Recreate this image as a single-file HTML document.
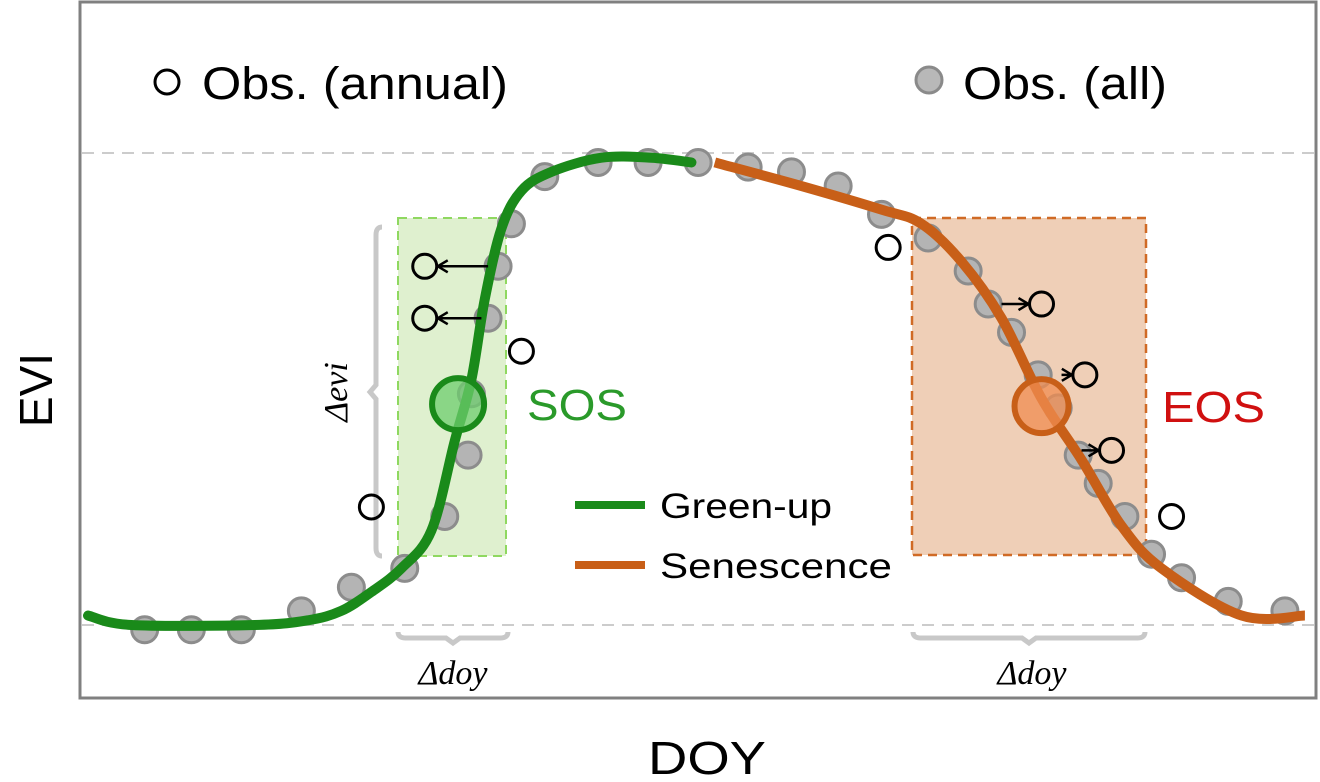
<!DOCTYPE html>
<html><head><meta charset="utf-8"><style>
html,body{margin:0;padding:0;background:#fff;}
svg{display:block;font-family:"Liberation Sans",sans-serif;}
</style></head><body>
<svg id="chart" width="1320" height="782" viewBox="0 0 1320 782">
<rect x="80" y="2" width="1236" height="696" fill="#fff" stroke="#808080" stroke-width="3"/>
<line x1="82" y1="153" x2="1314" y2="153" stroke="#ccc" stroke-width="2" stroke-dasharray="12,8"/>
<line x1="82" y1="625" x2="1314" y2="625" stroke="#ccc" stroke-width="2" stroke-dasharray="12,8"/>
<rect x="398" y="218" width="108" height="338" fill="#dff0cf" stroke="#8fd860" stroke-width="2" stroke-dasharray="9,6"/>
<rect x="912" y="218" width="234" height="337" fill="#efcfb7" stroke="#d06a25" stroke-width="2.5" stroke-dasharray="9,6"/>
<path d="M382 227 Q376 227 376 235 L376 385 L370 392 L376 399 L376 548 Q376 556 382 556" fill="none" stroke="#c8c8c8" stroke-width="5"/>
<text transform="translate(347,392) rotate(-90)" text-anchor="middle" font-family="Liberation Serif,serif" font-style="italic" font-size="34">Δevi</text>
<path d="M398 632 Q398 638 406 638 L446 638 L453 643 L460 638 L500 638 Q508 638 508 632" fill="none" stroke="#c8c8c8" stroke-width="5"/>
<text x="453" y="684" text-anchor="middle" font-family="Liberation Serif,serif" font-style="italic" font-size="34">Δdoy</text>
<path d="M913 632 Q913 638 921 638 L1022 638 L1029 643 L1036 638 L1137 638 Q1145 638 1145 632" fill="none" stroke="#c8c8c8" stroke-width="5"/>
<text x="1032" y="684" text-anchor="middle" font-family="Liberation Serif,serif" font-style="italic" font-size="34">Δdoy</text>
<g id="allpts"></g><g id="curves"></g><g id="annual"></g>
<text x="40" y="390" transform="rotate(-90,40,390)" text-anchor="middle" dominant-baseline="middle" font-size="46">EVI</text>
<text x="707" y="774" text-anchor="middle" font-size="46" textLength="118" lengthAdjust="spacingAndGlyphs">DOY</text>
<circle cx="167" cy="82" r="12" fill="#fff" stroke="#000" stroke-width="3"/>
<text x="202" y="99" font-size="45" textLength="306" lengthAdjust="spacingAndGlyphs">Obs. (annual)</text>
<circle cx="929" cy="80" r="13" fill="#b8b8b8" stroke="#8a8a8a" stroke-width="3"/>
<text x="963" y="99" font-size="45" textLength="204" lengthAdjust="spacingAndGlyphs">Obs. (all)</text>
<line x1="575" y1="505" x2="645" y2="505" stroke="#1a8a1a" stroke-width="8"/>
<text x="660" y="518" font-size="35" textLength="172" lengthAdjust="spacingAndGlyphs">Green-up</text>
<line x1="575" y1="565" x2="645" y2="565" stroke="#c85f18" stroke-width="8"/>
<text x="660" y="578" font-size="35" textLength="232" lengthAdjust="spacingAndGlyphs">Senescence</text>
<text x="527" y="420" font-size="44" fill="#2a9a2a" textLength="100" lengthAdjust="spacingAndGlyphs">SOS</text>
<text x="1162" y="422" font-size="44" fill="#d01010" textLength="103" lengthAdjust="spacingAndGlyphs">EOS</text>
</svg>
<script>
const allDoy=[17,31,46,64,79,95,107,114,115,120,123,127,137,153,168,183,198,211,225,238,252,264,270,277,285,291,297,303,311,319,328,342,359];
const allEvi=[-0.01,-0.01,-0.01,0.03,0.08,0.12,0.23,0.36,0.49,0.65,0.76,0.85,0.95,0.98,0.98,0.98,0.97,0.96,0.93,0.87,0.82,0.75,0.68,0.62,0.53,0.46,0.36,0.30,0.23,0.15,0.10,0.05,0.03];
const greenDoy=[0,13,50,66,76,85,94,103,110,115,119,124,130,139,154,169,181];
const greenEvi=[0.02,0,0,0.01,0.03,0.07,0.12,0.20,0.39,0.52,0.69,0.84,0.92,0.96,0.99,0.99,0.98];
const senDoy=[188,214,238,250,262,274,286,298,310,322,346,365];
const senEvi=[0.98,0.93,0.88,0.85,0.77,0.65,0.48,0.35,0.21,0.12,0.02,0.02];
const annDoy=[85,101,101,130,240,286,299,307,325];
const annEvi=[0.25,0.76,0.65,0.58,0.80,0.68,0.53,0.37,0.23];
const arrowFromDoy=[null,120,118,null,null,274,292,298,null];
const sosDoy=111, sosEvi=0.47, eosDoy=286, eosEvi=0.47;
const NS='http://www.w3.org/2000/svg';
const xs=d=>88+d*3.334, ys=v=>625-v*472;
function mk(t,a,p){const e=document.createElementNS(NS,t);for(const k in a)e.setAttribute(k,a[k]);p.appendChild(e);return e;}
const gAll=document.getElementById('allpts');
allDoy.forEach((d,i)=>{const c=mk('circle',{cx:xs(d),cy:ys(allEvi[i]),r:13,fill:'#b4b4b4',stroke:'#8c8c8c','stroke-width':3},gAll);

});
function path(ds,vs){const p=ds.map((d,i)=>[xs(d),ys(vs[i])]);let s='M'+p[0][0]+' '+p[0][1];
for(let i=0;i<p.length-1;i++){const a=p[i-1]||p[i],b=p[i],c=p[i+1],e=p[i+2]||c;
s+=' C'+(b[0]+(c[0]-a[0])/6)+' '+(b[1]+(c[1]-a[1])/6)+' '+(c[0]-(e[0]-b[0])/6)+' '+(c[1]-(e[1]-b[1])/6)+' '+c[0]+' '+c[1];}return s;}
const gC=document.getElementById('curves');
const gl=mk('path',{d:path(greenDoy,greenEvi),fill:'none',stroke:'#1a8a1a','stroke-width':10,'stroke-linecap':'round','stroke-linejoin':'round'},gC);


const sl=mk('path',{d:path(senDoy,senEvi),fill:'none',stroke:'#c85f18','stroke-width':10,'stroke-linecap':'butt','stroke-linejoin':'round'},gC);


const sc=mk('circle',{cx:xs(sosDoy),cy:ys(sosEvi)+1,r:26,fill:'rgba(110,205,110,0.75)',stroke:'#1a8a1a','stroke-width':6},gC);


const ec=mk('circle',{cx:xs(eosDoy),cy:ys(eosEvi)+3,r:27,fill:'rgba(240,140,80,0.75)',stroke:'#c85f18','stroke-width':6},gC);


const gA=document.getElementById('annual');
annDoy.forEach((d,i)=>{const x=xs(d),y=ys(annEvi[i]);
const c=mk('circle',{cx:x,cy:y,r:12,fill:'none',stroke:'#000','stroke-width':3},gA);


if(arrowFromDoy[i]!==null){const fx=xs(arrowFromDoy[i]);const dir=Math.sign(x-fx);const tx=x-dir*13;
const l=mk('path',{d:'M'+fx+' '+y+' L'+tx+' '+y+' M'+(tx-dir*10)+' '+(y-6)+' L'+tx+' '+y+' L'+(tx-dir*10)+' '+(y+6),fill:'none',stroke:'#000','stroke-width':2.5},gA);

}});
</script>
</body></html>
